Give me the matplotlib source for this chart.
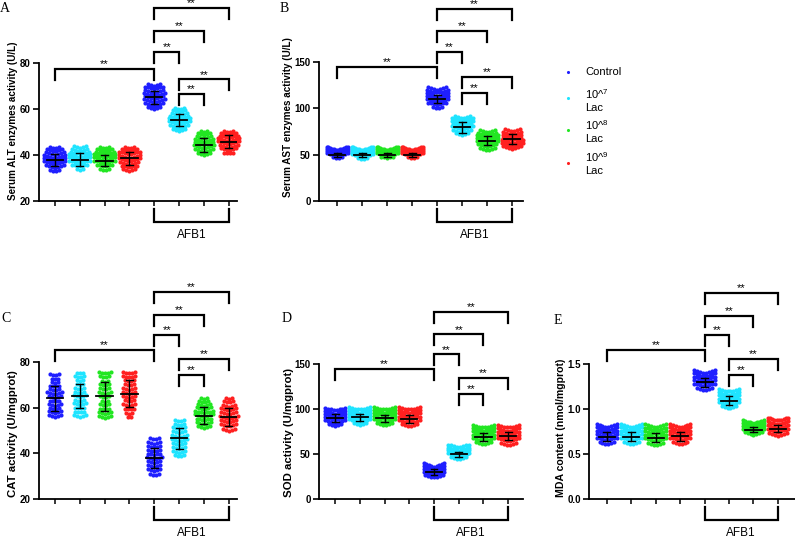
import matplotlib.pyplot as plt
import numpy as np

plt.rcParams['font.family'] = ['Liberation Sans', 'DejaVu Sans']
plt.rcParams['mathtext.fontset'] = 'custom'
plt.rcParams['mathtext.rm'] = 'Liberation Sans'
plt.rcParams['mathtext.it'] = 'Liberation Sans'

W, H = 795, 539

# groups: Control, 10^7 Lac, 10^8 Lac, 10^9 Lac, then the same four with AFB1
group_colors = ['#1f1fff', '#1fe4ff', '#22e622', '#ff2020'] * 2
legend_labels = ['Control', '10^$^7$\nLac', '10^$^8$\nLac', '10^$^9$\nLac']

# ---- A: serum ALT (U/L) ----
alt_lo = [33, 33.5, 33.5, 33, 60, 50.5, 40, 40.5]
alt_hi = [43, 43, 43, 43, 70, 60, 50, 50]
alt_counts = [[4, 7, 8, 8, 8, 7, 6, 4], [3, 6, 8, 8, 9, 7, 6, 5],
              [4, 6, 8, 9, 8, 7, 6, 4], [5, 6, 7, 8, 8, 8, 6, 4],
              [5, 7, 8, 7, 8, 7, 7, 5], [5, 7, 8, 8, 7, 6, 5, 4],
              [5, 7, 8, 7, 7, 6, 5, 3], [4, 6, 7, 8, 8, 7, 6, 4]]
alt_mean = [37.8, 38.0, 37.6, 38.5, 65.0, 55.3, 44.3, 45.8]
alt_sd = [2.5, 2.7, 2.5, 2.8, 3.0, 2.5, 3.0, 2.8]

# ---- B: serum AST (U/L) ----
ast_lo = [46, 45, 46, 46, 100, 71, 55, 56]
ast_hi = [55, 55, 55, 55, 120, 89, 74, 75]
ast_counts = [[4, 8, 11, 13, 12], [4, 8, 11, 13, 12], [5, 8, 11, 12, 12],
              [4, 8, 11, 13, 12], [4, 7, 8, 8, 8, 8, 7], [5, 7, 8, 7, 8, 8, 6],
              [6, 7, 8, 8, 8, 7, 6], [7, 8, 8, 7, 7, 7, 6]]
ast_mean = [50.0, 50.0, 50.0, 50.0, 109.8, 79.5, 65.0, 66.5]
ast_sd = [2.0, 2.0, 2.0, 2.0, 4.5, 6.0, 5.0, 5.5]

# ---- C: CAT activity (U/mgprot) ----
cat_lo = [56, 56, 55.5, 55.5, 30.5, 38.5, 51, 50]
cat_hi = [74, 75, 75, 75, 46, 54, 64, 64]
cat_counts = [[5, 5, 4, 5, 4, 5, 6, 4, 4, 3, 3, 4], [5, 4, 4, 5, 4, 5, 4, 4, 3, 3, 4, 3],
              [5, 5, 4, 4, 3, 4, 5, 4, 4, 3, 4, 5], [2, 3, 4, 5, 4, 5, 5, 5, 4, 4, 5, 5],
              [4, 5, 5, 5, 6, 5, 5, 5, 5, 4], [4, 5, 5, 5, 6, 6, 5, 5, 4, 4],
              [5, 6, 6, 7, 7, 6, 5, 4, 3], [5, 6, 6, 7, 6, 6, 5, 4, 3]]
cat_mean = [64.2, 65.0, 65.0, 66.2, 38.0, 46.5, 56.5, 56.0]
cat_sd = [5.5, 5.3, 6.3, 6.0, 4.5, 4.5, 3.8, 4.0]

# ---- D: SOD activity (U/mgprot) ----
sod_lo = [81, 82, 82, 81, 24, 44, 61, 60]
sod_hi = [98, 99, 99, 99, 36, 57, 79, 79]
sod_counts = [[5, 8, 9, 10, 9, 8], [5, 8, 9, 10, 9, 8], [6, 8, 9, 9, 9, 8],
              [6, 8, 9, 9, 9, 8], [7, 10, 12, 11, 9], [6, 10, 12, 11, 8],
              [6, 8, 9, 10, 9, 8], [6, 8, 9, 10, 9, 8]]
sod_mean = [90.0, 91.0, 89.5, 89.0, 30.0, 49.5, 68.5, 70.5]
sod_sd = [4.0, 4.0, 4.0, 4.0, 3.0, 3.0, 4.5, 4.5]

# ---- E: MDA content (nmol/mgprot) ----
mda_lo = [0.61, 0.61, 0.60, 0.61, 1.21, 1.01, 0.71, 0.70]
mda_hi = [0.80, 0.80, 0.80, 0.80, 1.40, 1.19, 0.84, 0.87]
mda_counts = [[6, 8, 9, 10, 9, 8], [6, 8, 9, 10, 9, 8], [6, 8, 9, 9, 10, 8],
              [6, 8, 9, 10, 9, 8], [6, 8, 9, 10, 9, 8], [6, 8, 9, 10, 9, 8],
              [7, 10, 11, 12, 10], [7, 10, 11, 12, 10]]
mda_mean = [0.69, 0.69, 0.68, 0.70, 1.30, 1.09, 0.77, 0.78]
mda_sd = [0.05, 0.05, 0.05, 0.05, 0.05, 0.05, 0.03, 0.04]

# significance brackets: (group i, group j, height of bar in data units)
alt_sig = [(0, 4, 77.4), (4, 5, 84.8), (4, 6, 93.9), (4, 7, 103.9), (5, 7, 73.0), (5, 6, 66.5)]
ast_sig = [(0, 4, 144.6), (4, 5, 160.8), (4, 6, 183.4), (4, 7, 207.2), (5, 7, 133.8), (5, 6, 116.5)]
cat_sig = [(0, 4, 85.3), (4, 5, 91.8), (4, 6, 100.6), (4, 7, 110.7), (5, 7, 81.3), (5, 6, 74.3)]
sod_sig = [(0, 4, 144.4), (4, 5, 161.0), (4, 6, 183.0), (4, 7, 208.0), (5, 7, 134.4), (5, 6, 116.7)]
mda_sig = [(0, 4, 1.656), (4, 5, 1.822), (4, 6, 2.033), (4, 7, 2.289), (5, 7, 1.556), (5, 6, 1.378)]

panels = [
    dict(letter='A', ylabel='Serum ALT enzymes activity (U/L)', box=(39, 63, 237, 201),
         xlim=(-0.64, 7.33), ylim=(20, 80), yticks=[20, 40, 60, 80], fmt='{:.0f}',
         lo=alt_lo, hi=alt_hi, counts=alt_counts, mean=alt_mean, sd=alt_sd, sig=alt_sig,
         letter_xy=(5, 8), label_xy=(13, 200), label_size=7.1),
    dict(letter='B', ylabel='Serum AST enzymes activity (U/L)', box=(319, 62, 523, 201),
         xlim=(-0.72, 7.44), ylim=(0, 150), yticks=[0, 50, 100, 150], fmt='{:.0f}',
         lo=ast_lo, hi=ast_hi, counts=ast_counts, mean=ast_mean, sd=ast_sd, sig=ast_sig,
         letter_xy=(284, 8), label_xy=(288, 197), label_size=7.1),
    dict(letter='C', ylabel='CAT activity (U/mgprot)', box=(39, 362, 237, 499),
         xlim=(-0.64, 7.33), ylim=(20, 80), yticks=[20, 40, 60, 80], fmt='{:.0f}',
         lo=cat_lo, hi=cat_hi, counts=cat_counts, mean=cat_mean, sd=cat_sd, sig=cat_sig,
         letter_xy=(6, 318), label_xy=(13, 497), label_size=8.2),
    dict(letter='D', ylabel='SOD activity (U/mgprot)', box=(319, 364, 523, 499),
         xlim=(-0.65, 7.6), ylim=(0, 150), yticks=[0, 50, 100, 150], fmt='{:.0f}',
         lo=sod_lo, hi=sod_hi, counts=sod_counts, mean=sod_mean, sd=sod_sd, sig=sod_sig,
         letter_xy=(287, 319), label_xy=(289, 497), label_size=8.2),
    dict(letter='E', ylabel='MDA content (nmol/mgprot)', box=(589, 364, 795, 499),
         xlim=(-0.73, 7.7), ylim=(0, 1.5), yticks=[0, 0.5, 1.0, 1.5], fmt='{:.1f}',
         lo=mda_lo, hi=mda_hi, counts=mda_counts, mean=mda_mean, sd=mda_sd, sig=mda_sig,
         letter_xy=(558, 320), label_xy=(561, 497), label_size=7.6),
]


def swarm(x0, lo, hi, counts, upp, ppx):
    # lay the dots of one group out in rows, Prism style
    levels = np.linspace(lo, hi, len(counts))
    xs, ys = [], []
    for lev, n in zip(levels, counts):
        dx = min(0.12, 0.84 / max(n - 1, 1))
        off = (np.arange(n) - (n - 1) / 2) * dx
        xs.extend(x0 + off)
        ys.extend(lev + np.abs(off) * ppx * 0.3 * upp)
    return np.array(xs), np.array(ys)


fig = plt.figure(figsize=(W / 100, H / 100), dpi=100)

for p in panels:
    l, t, r, b = p['box']
    ax = fig.add_axes([l / W, 1 - b / H, (r - l) / W, (b - t) / H])
    ax.set_xlim(*p['xlim'])
    ax.set_ylim(*p['ylim'])
    upp = (p['ylim'][1] - p['ylim'][0]) / (b - t)       # data units per pixel
    ppx = (r - l) / (p['xlim'][1] - p['xlim'][0])       # pixels per group
    ymin = p['ylim'][0]

    for g in range(8):
        xs, ys = swarm(g, p['lo'][g], p['hi'][g], p['counts'][g], upp, ppx)
        ax.scatter(xs, ys, s=9, color=group_colors[g], linewidths=0, zorder=2, clip_on=False)
        m, s = p['mean'][g], p['sd'][g]
        ax.plot([g - 0.33, g + 0.33], [m, m], color='k', lw=1.3, zorder=3)
        ax.plot([g, g], [m - s, m + s], color='k', lw=1.0, zorder=3)
        for yy in (m - s, m + s):
            ax.plot([g - 0.14, g + 0.14], [yy, yy], color='k', lw=1.0, zorder=3)

    leg = 11 * upp
    for i, j, top in p['sig']:
        ax.plot([i, i, j, j], [top - leg, top, top, top - leg], color='k', lw=1.6,
                clip_on=False, solid_joinstyle='miter', zorder=4)
        ax.text((i + j) / 2, top + 1.5 * upp, '**', ha='center', va='baseline',
                fontsize=8, zorder=4)

    # AFB1 bracket under the axis
    ax.plot([4, 4, 7, 7], [ymin - 8 * upp, ymin - 21 * upp, ymin - 21 * upp, ymin - 8 * upp],
            color='k', lw=1.6, clip_on=False, solid_joinstyle='miter')
    ax.text(5.5, ymin - 34 * upp, 'AFB1', ha='center', va='center', fontsize=8.5)

    for side in ('top', 'right'):
        ax.spines[side].set_visible(False)
    for side in ('left', 'bottom'):
        ax.spines[side].set_linewidth(1.3)
    ax.set_xticks(range(8))
    ax.set_xticklabels([])
    ax.set_yticks(p['yticks'])
    ax.set_yticklabels([p['fmt'].format(v) for v in p['yticks']], fontsize=7, fontweight='bold')
    ax.tick_params(axis='x', length=3.5, width=1.1)
    ax.tick_params(axis='y', length=4, width=1.2, pad=2)
    ax.patch.set_alpha(0)

    lx, ly = p['label_xy']
    fig.text(lx / W, 1 - ly / H, p['ylabel'], rotation=90, ha='center', va='bottom',
             fontsize=p['label_size'], fontweight='bold')
    tx, ty = p['letter_xy']
    fig.text(tx / W, 1 - ty / H, p['letter'], ha='center', va='center', fontsize=10,
             family=['Liberation Serif', 'DejaVu Serif'])

# legend
leg_ax = fig.add_axes([0, 0, 1, 1])
leg_ax.set_xlim(0, W)
leg_ax.set_ylim(H, 0)
leg_ax.axis('off')
leg_dot_y = [72, 98, 130, 163]
leg_text_y = [72, 100, 131, 163]
for k in range(4):
    leg_ax.scatter([568], [leg_dot_y[k]], s=5, color=group_colors[k], linewidths=0)
    leg_ax.text(585, leg_text_y[k], legend_labels[k], ha='left', va='center', fontsize=8,
                linespacing=1.3)

fig.savefig('out.png', dpi=100)
